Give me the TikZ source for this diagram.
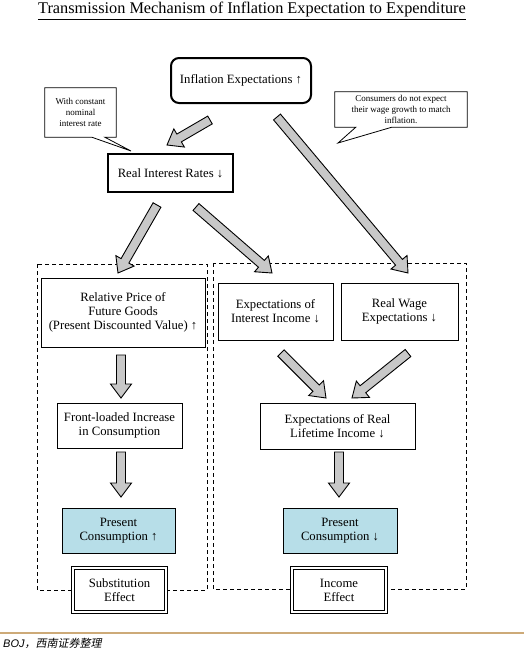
\documentclass[tikz,border=0pt]{standalone}
\usepackage{fontspec}
\setmainfont{Liberation Serif}
\newfontfamily\footsans{Liberation Sans}
\newfontfamily\cjkfoot[FakeSlant=0.2]{Noto Sans CJK SC}
\usetikzlibrary{calc}
\definecolor{arrgray}{RGB}{200,200,200}
\definecolor{lblue}{RGB}{183,222,232}
\definecolor{tan}{RGB}{205,170,120}
\tikzset{
  box/.style={draw, line width=0.9pt, align=center, inner sep=0pt,
    font=\fontsize{12.7}{13.8}\selectfont, fill=white},
  thickbox/.style={box, line width=2pt},
  bluebox/.style={box, fill=lblue},
  dblbox/.style={box, double, line width=0.9pt, double distance=1.6pt},
  calltext/.style={align=center, inner sep=0pt, font=\fontsize{9}{11}\selectfont},
  callout/.style={draw, line width=0.8pt, fill=white},
  dashbox/.style={draw, line width=0.9pt, dash pattern=on 4pt off 3pt},
  blkstyle/.style={draw, line width=0.9pt, fill=arrgray, line join=miter}
}
\newcommand{\blkarrow}[2]{%
  \draw[blkstyle] ($(#1)!4.5pt!90:(#2)$) -- ($(#2)!14pt!(#1)!4.5pt!90:(#2)$)
    -- ($(#2)!14pt!(#1)!10.5pt!90:(#2)$) -- (#2)
    -- ($(#2)!14pt!(#1)!10.5pt!-90:(#2)$) -- ($(#2)!14pt!(#1)!4.5pt!-90:(#2)$)
    -- ($(#1)!4.5pt!-90:(#2)$) -- cycle;}
\begin{document}
\begin{tikzpicture}[x=1pt,y=-1pt]
\path[use as bounding box, clip] (0,0) rectangle (524,648);
\fill[white] (0,0) rectangle (524,648);

% title
\node[inner sep=0pt, font=\fontsize{16.3}{18}\selectfont] (title) at (252,9.5) {Transmission Mechanism of Inflation Expectation to Expenditure};
\draw[line width=0.7pt] ($(title.south west)+(0,2)$) -- ($(title.south east)+(0,2)$);

% dashed frames
\draw[dashbox] (37,264) rectangle (207,590);
\draw[dashbox] (213,263) rectangle (466,589);

% top nodes
\node[thickbox, rounded corners=8pt, minimum width=140pt, minimum height=45pt] (infl) at (241,80.5) {Inflation Expectations ↑};
\node[thickbox, minimum width=125pt, minimum height=38pt] (rir) at (170.5,173) {Real Interest Rates ↓};

% callouts
\node[calltext, minimum width=71pt, minimum height=49pt] (cl) at (80.5,112.5) {With constant\\nominal\\interest rate};
\coordinate (cltip) at (131,151);
\draw[callout] (cl.north west) -- (cl.north east) -- (cl.south east)
  -- ($(cl.south west)+(60,0)$) -- (cltip) -- ($(cl.south west)+(47,0)$) -- (cl.south west) -- cycle;
\node[calltext] at (cl) {With constant\\nominal\\interest rate};

\node[calltext, minimum width=132pt, minimum height=35pt] (cr) at (401,109.5) {Consumers do not expect\\their wage growth to match\\inflation.};
\coordinate (crtip) at (338,143);
\draw[callout] (cr.north west) -- (cr.north east) -- (cr.south east)
  -- ($(cr.south west)+(57,0)$) -- (crtip) -- ($(cr.south west)+(21,0)$) -- (cr.south west) -- cycle;
\node[calltext] at (cr) {Consumers do not expect\\their wage growth to match\\inflation.};

% middle nodes
\node[box, minimum width=164pt, minimum height=69pt] (relp) at (123,312.5) {Relative Price of\\Future Goods\\(Present Discounted Value) ↑};
\node[box, minimum width=115pt, minimum height=57pt] (intinc) at (275.5,311.5) {Expectations of\\Interest Income ↓};
\node[box, minimum width=117pt, minimum height=57pt] (wage) at (399.5,311.5) {Real Wage\\Expectations ↓};
\node[box, minimum width=125pt, minimum height=45pt] (front) at (119.5,425.5) {Front-loaded Increase\\in Consumption};
\node[box, minimum width=155pt, minimum height=46pt] (life) at (337.5,426) {Expectations of Real\\Lifetime Income ↓};
\node[bluebox, minimum width=113pt, minimum height=45pt] (pcup) at (118.5,530.5) {Present\\Consumption ↑};
\node[bluebox, minimum width=114pt, minimum height=45pt] (pcdown) at (340,530.5) {Present\\Consumption ↓};
\node[dblbox, minimum width=93pt, minimum height=44pt] (subst) at (119.5,590) {Substitution\\Effect};
\node[dblbox, minimum width=94pt, minimum height=44pt] (income) at (339,590) {Income\\Effect};

% block arrows
\coordinate (a1s) at (210,120); \coordinate (a1e) at (167,145);
\blkarrow{a1s}{a1e}
\coordinate (a2s) at (277,117); \coordinate (a2e) at (408,273);
\blkarrow{a2s}{a2e}
\coordinate (a3s) at (157,205); \coordinate (a3e) at (118,273);
\blkarrow{a3s}{a3e}
\coordinate (a4s) at (196,207); \coordinate (a4e) at (272,273);
\blkarrow{a4s}{a4e}
\coordinate (a5s) at (281,353); \coordinate (a5e) at (326,398);
\blkarrow{a5s}{a5e}
\coordinate (a6s) at (408,353); \coordinate (a6e) at (352,398);
\blkarrow{a6s}{a6e}
\coordinate (a7s) at (121,355); \coordinate (a7e) at (121,398);
\blkarrow{a7s}{a7e}
\coordinate (a8s) at (121,452); \coordinate (a8e) at (121,497);
\blkarrow{a8s}{a8e}
\coordinate (a9s) at (339,452); \coordinate (a9e) at (339,497);
\blkarrow{a9s}{a9e}

% footer
\draw[tan, line width=1.2pt] (0,633) -- (524,633);
\node[anchor=base west, inner sep=0pt, font=\fontsize{11}{13}\selectfont] (foot) at (3,647) {{\footsans\itshape BOJ}{\cjkfoot ，西南证券整理}};
\end{tikzpicture}
\end{document}
